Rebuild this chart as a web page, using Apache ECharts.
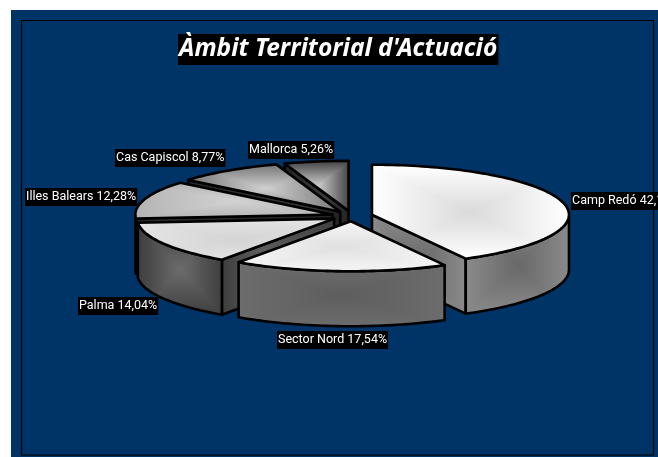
<!DOCTYPE html>
<html>
<head>
<meta charset="utf-8">
<style>html,body{margin:0;padding:0;background:#fff}#c{width:658px;height:457px}</style>
<script src="https://cdn.jsdelivr.net/npm/echarts@6/dist/echarts.min.js"></script>
</head>
<body>
<div id="c"></div>
<script>
// ---- data ----
var categories = ['Camp Redó', 'Sector Nord', 'Palma', 'Illes Balears', 'Cas Capiscol', 'Mallorca'];
var values = [24, 10, 8, 7, 5, 3];
var titleText = "Àmbit Territorial d'Actuació";

// ---- layout and style ----
var CX = 352, CY = 216, RX = 197, RY = 50, DEPTH = 55, EXPLODE = 20.6;
var labelAnchors = [[571, 192], [277, 331], [78, 297], [25, 188], [115, 149], [248, 141]];
var topColors = [['#ffffff', '#dadada'], ['#f6f6f6', '#e0e0e0'], ['#e4e4e4', '#d4d4d4'], ['#b4b4b4', '#d2d2d2'], ['#777777', '#d0d0d0'], ['#444444', '#d0d0d0']];
var wallColors = [['#8a8a8a', '#686868'], ['#6c6c6c', '#5e5e5e'], ['#3e3e3e', '#6c6c6c'], ['#222222', '#555555'], ['#222222', '#444444'], ['#222222', '#444444']];

var total = values.reduce(function (a, b) { return a + b; }, 0);
var rad = Math.PI / 180;
var slices = [];
var cum = 0;
values.forEach(function (v, i) {
  var a = cum / total * 360;
  cum += v;
  var b = cum / total * 360;
  var mid = (a + b) / 2;
  slices.push({
    i: i, a: a, b: b, mid: mid,
    cx: CX + EXPLODE * Math.sin(mid * rad),
    cy: CY - EXPLODE * (RY / RX) * Math.cos(mid * rad)
  });
});
var drawOrder = slices.slice().sort(function (p, q) { return Math.cos(q.mid * rad) - Math.cos(p.mid * rad); });

function rim(s, t, dy) {
  return [s.cx + RX * Math.sin(t * rad), s.cy - RY * Math.cos(t * rad) + (dy || 0)];
}
function arc(s, a, b, dy) {
  var pts = [], n = Math.max(2, Math.ceil((b - a) / 1.5));
  for (var k = 0; k <= n; k++) pts.push(rim(s, a + (b - a) * k / n, dy));
  return pts;
}
function hex(c) { return [1, 3, 5].map(function (k) { return parseInt(c.substr(k, 2), 16); }); }
// Rectangular "from centre" fill, sized to a polygon's bounding box
function rectFill(points, colors) {
  var x0 = Infinity, y0 = Infinity, x1 = -Infinity, y1 = -Infinity;
  points.forEach(function (p) {
    x0 = Math.min(x0, p[0]); y0 = Math.min(y0, p[1]);
    x1 = Math.max(x1, p[0]); y1 = Math.max(y1, p[1]);
  });
  var pad = 4, bx = Math.floor(x0) - pad, by = Math.floor(y0) - pad;
  var w = Math.ceil(x1 - x0) + pad * 2 + 1, h = Math.ceil(y1 - y0) + pad * 2 + 1;
  var cv = document.createElement('canvas');
  cv.width = w; cv.height = h;
  var ctx = cv.getContext('2d'), img = ctx.createImageData(w, h);
  var o = hex(colors[0]), c = hex(colors[1]);
  var mx = (x0 + x1) / 2 - bx, my = (y0 + y1) / 2 - by;
  var hw = Math.max(1, (x1 - x0) / 2), hh = Math.max(1, (y1 - y0) / 2);
  for (var y = 0; y < h; y++) for (var x = 0; x < w; x++) {
    var t = Math.min(1, Math.max(Math.abs(x - mx) / hw, Math.abs(y - my) / hh));
    var k = (y * w + x) * 4;
    for (var j = 0; j < 3; j++) img.data[k + j] = c[j] + (o[j] - c[j]) * t;
    img.data[k + 3] = 255;
  }
  ctx.putImageData(img, 0, 0);
  return { image: cv, repeat: 'no-repeat', x: bx, y: by };
}
function poly(points, colors) {
  return {
    type: 'polygon',
    shape: { points: points },
    style: { fill: rectFill(points, colors), stroke: '#000', lineWidth: 2.6, lineJoin: 'round' }
  };
}
function sliceGroup(s) {
  var kids = [];
  var w = wallColors[s.i];
  var apex = [s.cx, s.cy];
  var apexLow = [s.cx, s.cy + DEPTH];
  if (Math.sin(s.a * rad) < -1e-6) {
    var p = rim(s, s.a), q = rim(s, s.a, DEPTH);
    kids.push(poly([apex, p, q, apexLow], w));
  }
  if (Math.sin(s.b * rad) > 1e-6) {
    var p2 = rim(s, s.b), q2 = rim(s, s.b, DEPTH);
    kids.push(poly([apex, p2, q2, apexLow], w));
  }
  var fa = Math.max(s.a, 90), fb = Math.min(s.b, 270);
  if (fb > fa) {
    kids.push(poly(arc(s, fa, fb, 0).concat(arc(s, fa, fb, DEPTH).reverse()), w));
  }
  kids.push(poly([apex].concat(arc(s, s.a, s.b, 0)), topColors[s.i]));
  return { type: 'group', children: kids };
}
function labelText(i) {
  return categories[i] + ' ' + (values[i] / total * 100).toFixed(2).replace('.', ',') + '%';
}

var chart = echarts.init(document.getElementById('c'), null, { renderer: 'canvas' });
chart.setOption({
  animation: false,
  backgroundColor: '#ffffff',
  title: {
    text: titleText,
    left: 178, top: 34,
    padding: [0, 1, 0, 1],
    backgroundColor: '#000000',
    textStyle: { color: '#ffffff', fontFamily: '"Noto Sans"', fontWeight: 'bold', fontStyle: 'italic', fontSize: 24.5, lineHeight: 31 }
  },
  graphic: [
    { type: 'rect', z: -10, silent: true, shape: { x: 11, y: 10, width: 647, height: 447 }, style: { fill: '#003366' } },
    { type: 'rect', z: -9, silent: true, shape: { x: 21.5, y: 20.5, width: 632, height: 434.5 }, style: { fill: 'none', stroke: '#000', lineWidth: 1.2 } }
  ],
  series: [
    {
      type: 'custom', coordinateSystem: 'none', silent: true, z: 2,
      data: drawOrder.map(function (s) { return values[s.i]; }),
      renderItem: function (params) { return sliceGroup(drawOrder[params.dataIndex]); }
    },
    {
      type: 'custom', coordinateSystem: 'none', silent: true, z: 3,
      data: values.slice(),
      renderItem: function (params) {
        var i = params.dataIndex;
        return {
          type: 'text', x: labelAnchors[i][0], y: labelAnchors[i][1],
          style: {
            text: labelText(i), fill: '#ffffff', backgroundColor: '#000000', padding: [2, 1, 2, 1],
            font: '12.5px Roboto', lineHeight: 14
          }
        };
      }
    }
  ]
});
</script>
</body>
</html>
